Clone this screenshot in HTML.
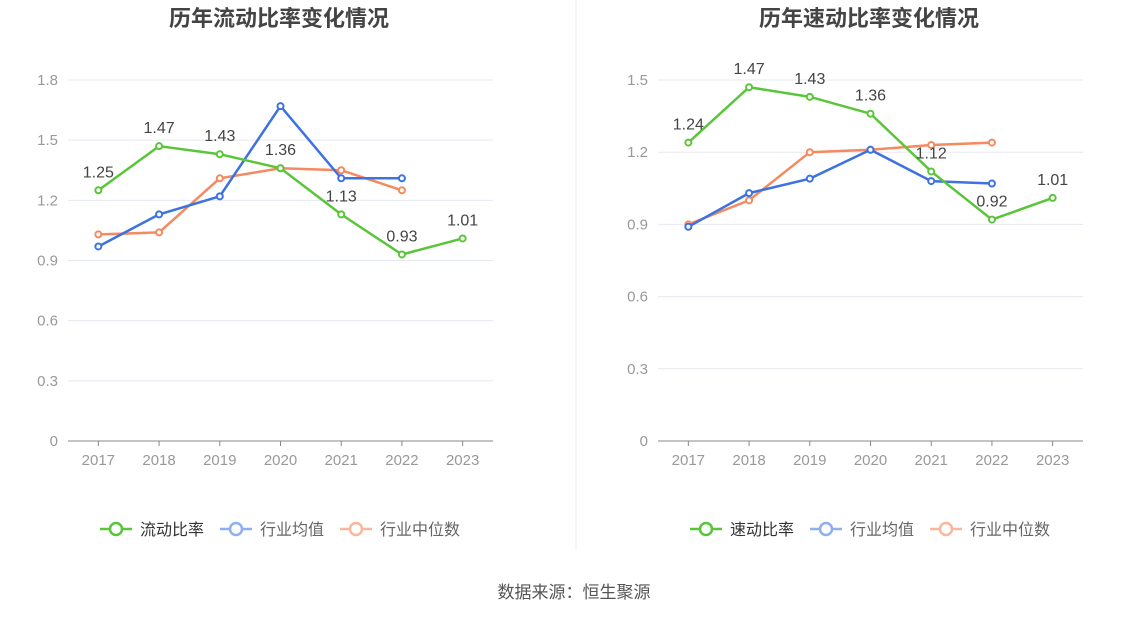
<!DOCTYPE html>
<html><head><meta charset="utf-8">
<style>
body{margin:0;background:#fff;font-family:"Liberation Sans","Noto Sans CJK SC",sans-serif;}
svg{display:block}
</style></head>
<body>
<svg id="c" width="1148" height="619" font-family="Liberation Sans, Noto Sans CJK SC, sans-serif"></svg>
<script>
const years=['2017','2018','2019','2020','2021','2022','2023'];
const currentRatio=[1.25,1.47,1.43,1.36,1.13,0.93,1.01];
const currentAvg=[0.97,1.13,1.22,1.67,1.31,1.31];
const currentMedian=[1.03,1.04,1.31,1.36,1.35,1.25];
const quickRatio=[1.24,1.47,1.43,1.36,1.12,0.92,1.01];
const quickAvg=[0.89,1.03,1.09,1.21,1.08,1.07];
const quickMedian=[0.90,1.00,1.20,1.21,1.23,1.24];
const leftTicks=[0,0.3,0.6,0.9,1.2,1.5,1.8];
const rightTicks=[0,0.3,0.6,0.9,1.2,1.5];

const NS='http://www.w3.org/2000/svg';
const svg=document.getElementById('c');
function mk(tag,attrs,parent){const e=document.createElementNS(NS,tag);for(const k in attrs)e.setAttribute(k,attrs[k]);(parent||svg).appendChild(e);return e;}
const GREEN='#5ac53a',BLUE='#3d72e0',ORANGE='#f5895f';

function chart(x0,title,ticks,main,avg,med,mainName,key){
  const g=mk('g',{});
  
  
  const left=x0+68,right=x0+493,top=80,bottom=441,maxV=ticks[ticks.length-1];
  const step=(right-left)/years.length;
  const xs=i=>left+step*(i+0.5);
  const ys=v=>bottom-(v/maxV)*(bottom-top);
  const t=mk('text',{x:x0+279,y:26,'text-anchor':'middle','font-size':22,'font-weight':'bold',fill:'#444'},g);
  t.textContent=title;
  
  
  ticks.forEach(v=>{
    const y=ys(v);
    if(v>0){const l=mk('line',{x1:left,x2:right,y1:y,y2:y,stroke:'#e6e8f0'},g);
      
      }
    const tx=mk('text',{x:left-10,y:y+5,'text-anchor':'end','font-size':15,fill:'#999'},g);
    tx.textContent=String(v);
    
    
  });
  const ax=mk('line',{x1:left,x2:right,y1:bottom,y2:bottom,stroke:'#888'},g);
  
  
  years.forEach((yr,i)=>{
    const tk=mk('line',{x1:xs(i),x2:xs(i),y1:bottom,y2:bottom+5,stroke:'#888'},g);
    
    
    const tx=mk('text',{x:xs(i),y:bottom+24,'text-anchor':'middle','font-size':15,fill:'#999'},g);
    tx.textContent=yr;
    
    
  });
  function series(arr,color,name,labels){
    const pts=arr.map((v,i)=>xs(i)+','+ys(v)).join(' ');
    const pl=mk('polyline',{points:pts,fill:'none',stroke:color,'stroke-width':2.5},g);
    
    
    arr.forEach((v,i)=>{
      const c=mk('circle',{cx:xs(i),cy:ys(v),r:3,fill:'#fff',stroke:color,'stroke-width':2},g);
      
      
      if(labels){
        const tx=mk('text',{x:xs(i),y:ys(v)-13,'text-anchor':'middle','font-size':16,fill:'#444'},g);
        tx.textContent=v.toFixed(2);
        
        
      }
    });
  }
  series(med,ORANGE,'industry-median',false);
  series(avg,BLUE,'industry-average',false);
  series(main,GREEN,key,true);
  const legend=[[mainName,GREEN,'#333'],['行业均值','#8fb0f0','#666'],['行业中位数','#f8b89d','#666']];
  let lx=x0+100;const widths=[120,120,0];
  legend.forEach((L,i)=>{
    const lg=mk('g',{},g);
    
    
    mk('line',{x1:lx,x2:lx+32,y1:529,y2:529,stroke:L[1],'stroke-width':2.5},lg);
    mk('circle',{cx:lx+16,cy:529,r:6,fill:'#fff',stroke:L[1],'stroke-width':2.5},lg);
    const tx=mk('text',{x:lx+40,y:535,'font-size':16,fill:L[2]},lg);
    tx.textContent=L[0];
    lx+=widths[i];
  });
}
chart(0,'历年流动比率变化情况',leftTicks,currentRatio,currentAvg,currentMedian,'流动比率','current-ratio');
chart(590,'历年速动比率变化情况',rightTicks,quickRatio,quickAvg,quickMedian,'速动比率','quick-ratio');
const dv=mk('line',{x1:576,x2:576,y1:0,y2:550,stroke:'#eee'});


const src=mk('text',{x:574,y:598,'text-anchor':'middle','font-size':17,fill:'#555'});
src.textContent='数据来源：恒生聚源';


</script>
</body></html>
